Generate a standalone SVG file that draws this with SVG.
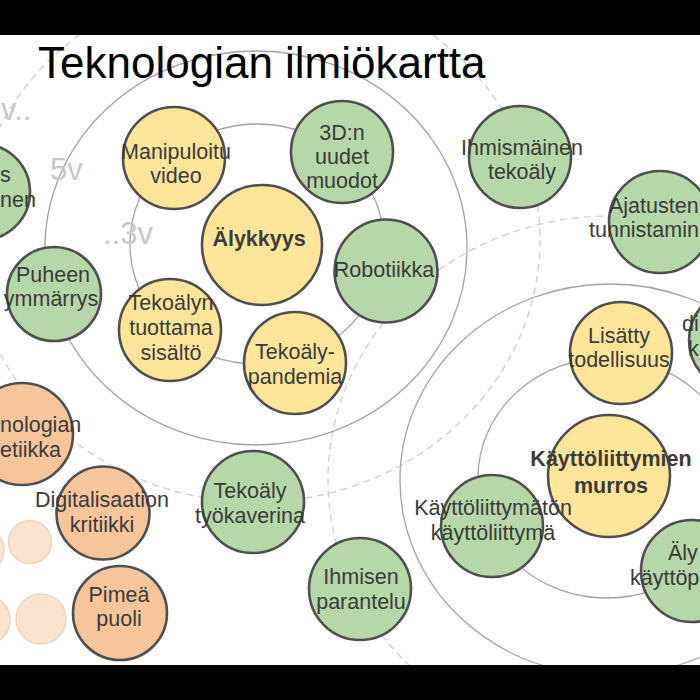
<svg xmlns="http://www.w3.org/2000/svg" width="700" height="700" viewBox="0 0 700 700">
<style>
.ring{fill:none;stroke:#a3a3a3;stroke-width:1.3}
.dash{fill:none;stroke:#cfcfcf;stroke-width:1.3;stroke-dasharray:7 5}
.g{fill:#b6d7a8;stroke:#4f4f4f;stroke-width:2.6}
.y{fill:#ffe599;stroke:#4f4f4f;stroke-width:2.6}
.o{fill:#f7c59b;stroke:#4f4f4f;stroke-width:2.6}
.f{fill:#fbe3cd;stroke:#ecd6c2;stroke-width:1.5}
.t{font-family:"Liberation Sans",Arial,sans-serif;font-size:21.5px;fill:#3b3b3b;text-anchor:middle}
.b{font-weight:bold}
.e{text-anchor:end}
.s{text-anchor:start}
.h{font-family:"Liberation Sans",Arial,sans-serif;font-size:31px;fill:#c8c8c8}
</style>
<rect x="0" y="0" width="700" height="700" fill="#ffffff"/>
<g id="rings">
<ellipse class="dash" cx="256" cy="240" rx="284" ry="262"/>
<ellipse class="dash" cx="610" cy="480" rx="282" ry="264"/>
<ellipse class="ring" cx="256" cy="248" rx="211" ry="197"/>
<ellipse class="ring" cx="257" cy="244" rx="127" ry="120"/>
<ellipse class="ring" cx="610" cy="480" rx="210" ry="196"/>
<ellipse class="ring" cx="607" cy="478" rx="129" ry="120"/>
</g>
<g id="horizon-labels">
<text class="h" x="1" y="120">v..</text>
<text class="h" x="50" y="180">5v</text>
<text class="h" x="103" y="244">..3v</text>
</g>
<g id="faded">
<circle class="f" cx="-18" cy="550" r="22"/>
<circle class="f" cx="30" cy="542" r="21.5"/>
<circle class="f" cx="-15" cy="620" r="25"/>
<circle class="f" cx="41" cy="619" r="25"/>
</g>
<g id="n-left-partial"><circle class="g" cx="-18" cy="192" r="48"/>
<text class="t s" x="0" y="182">s</text><text class="t s" x="0" y="207">nen</text></g>
<g id="n-manipuloitu"><circle class="y" cx="174" cy="158" r="51"/>
<text class="t" x="176" y="159">Manipuloitu</text><text class="t" x="176" y="183">video</text></g>
<g id="n-3d"><circle class="g" cx="342" cy="152" r="51"/>
<text class="t" x="342" y="140">3D:n</text><text class="t" x="342" y="164">uudet</text><text class="t" x="342" y="188">muodot</text></g>
<g id="n-alykkyys"><circle class="y" cx="262" cy="245" r="60"/>
<text class="t b" x="259" y="246">Älykkyys</text></g>
<g id="n-robotiikka"><circle class="g" cx="386" cy="271" r="51.5"/>
<text class="t" x="384" y="277">Robotiikka</text></g>
<g id="n-puheen"><circle class="g" cx="54" cy="294" r="47"/>
<text class="t" x="53" y="282">Puheen</text><text class="t" x="51" y="306">ymmärrys</text></g>
<g id="n-tekoalyn-sisalto"><circle class="y" cx="170" cy="330" r="51"/>
<text class="t" x="171" y="310">Tekoälyn</text><text class="t" x="171" y="335">tuottama</text><text class="t" x="171" y="360">sisältö</text></g>
<g id="n-pandemia"><circle class="y" cx="295" cy="363" r="51"/>
<text class="t" x="295" y="359">Tekoäly-</text><text class="t" x="295" y="384">pandemia</text></g>
<g id="n-ihmismainen"><circle class="g" cx="520" cy="157" r="51"/>
<text class="t" x="522" y="155">Ihmismäinen</text><text class="t" x="522" y="179">tekoäly</text></g>
<g id="n-ajatusten"><circle class="g" cx="660" cy="222" r="51"/>
<text class="t s" x="609" y="213">Ajatusten</text><text class="t s" x="589" y="237">tunnistamin</text></g>
<g id="n-right-partial"><circle class="g" cx="740" cy="340" r="51"/>
<text class="t s" x="682" y="331">di</text><text class="t s" x="688" y="356">k</text></g>
<g id="n-lisatty"><circle class="y" cx="621" cy="353" r="51"/>
<text class="t" x="619" y="343">Lisätty</text><text class="t" x="619" y="367">todellisuus</text></g>
<g id="n-murros"><circle class="y" cx="609" cy="476" r="61"/>
<text class="t b" x="611" y="466">Käyttöliittymien</text><text class="t b" x="611" y="493">murros</text></g>
<g id="n-kayttoliittymaton"><circle class="g" cx="492" cy="526" r="51"/>
<text class="t" x="493" y="515">Käyttöliittymätön</text><text class="t" x="493" y="540">käyttöliittymä</text></g>
<g id="n-alykas"><circle class="g" cx="692" cy="571" r="51"/>
<text class="t s" x="668" y="560">Äly</text><text class="t s" x="630" y="585">käyttöp</text></g>
<g id="n-tyokaverina"><circle class="g" cx="253" cy="502" r="51"/>
<text class="t" x="250" y="498">Tekoäly</text><text class="t" x="250" y="523">työkaverina</text></g>
<g id="n-ihmisen"><circle class="g" cx="360" cy="589" r="51"/>
<text class="t" x="361" y="584">Ihmisen</text><text class="t" x="361" y="609">parantelu</text></g>
<g id="n-etiikka"><circle class="o" cx="22" cy="434" r="51"/>
<text class="t s" x="0" y="432">nologian</text><text class="t s" x="0" y="457">etiikka</text></g>
<g id="n-digitalisaation"><circle class="o" cx="103" cy="513" r="46.5"/>
<text class="t" x="102" y="507">Digitalisaation</text><text class="t" x="102" y="532">kritiikki</text></g>
<g id="n-pimea"><circle class="o" cx="120" cy="613" r="47"/>
<text class="t" x="119" y="602">Pimeä</text><text class="t" x="119" y="626">puoli</text></g>
<text x="38" y="78" font-family="Liberation Sans, Arial, sans-serif" font-size="44" fill="#000000">Teknologian ilmiökartta</text>
<rect x="0" y="0" width="700" height="35" fill="#000000"/>
<rect x="0" y="665" width="700" height="35" fill="#000000"/>
</svg>
